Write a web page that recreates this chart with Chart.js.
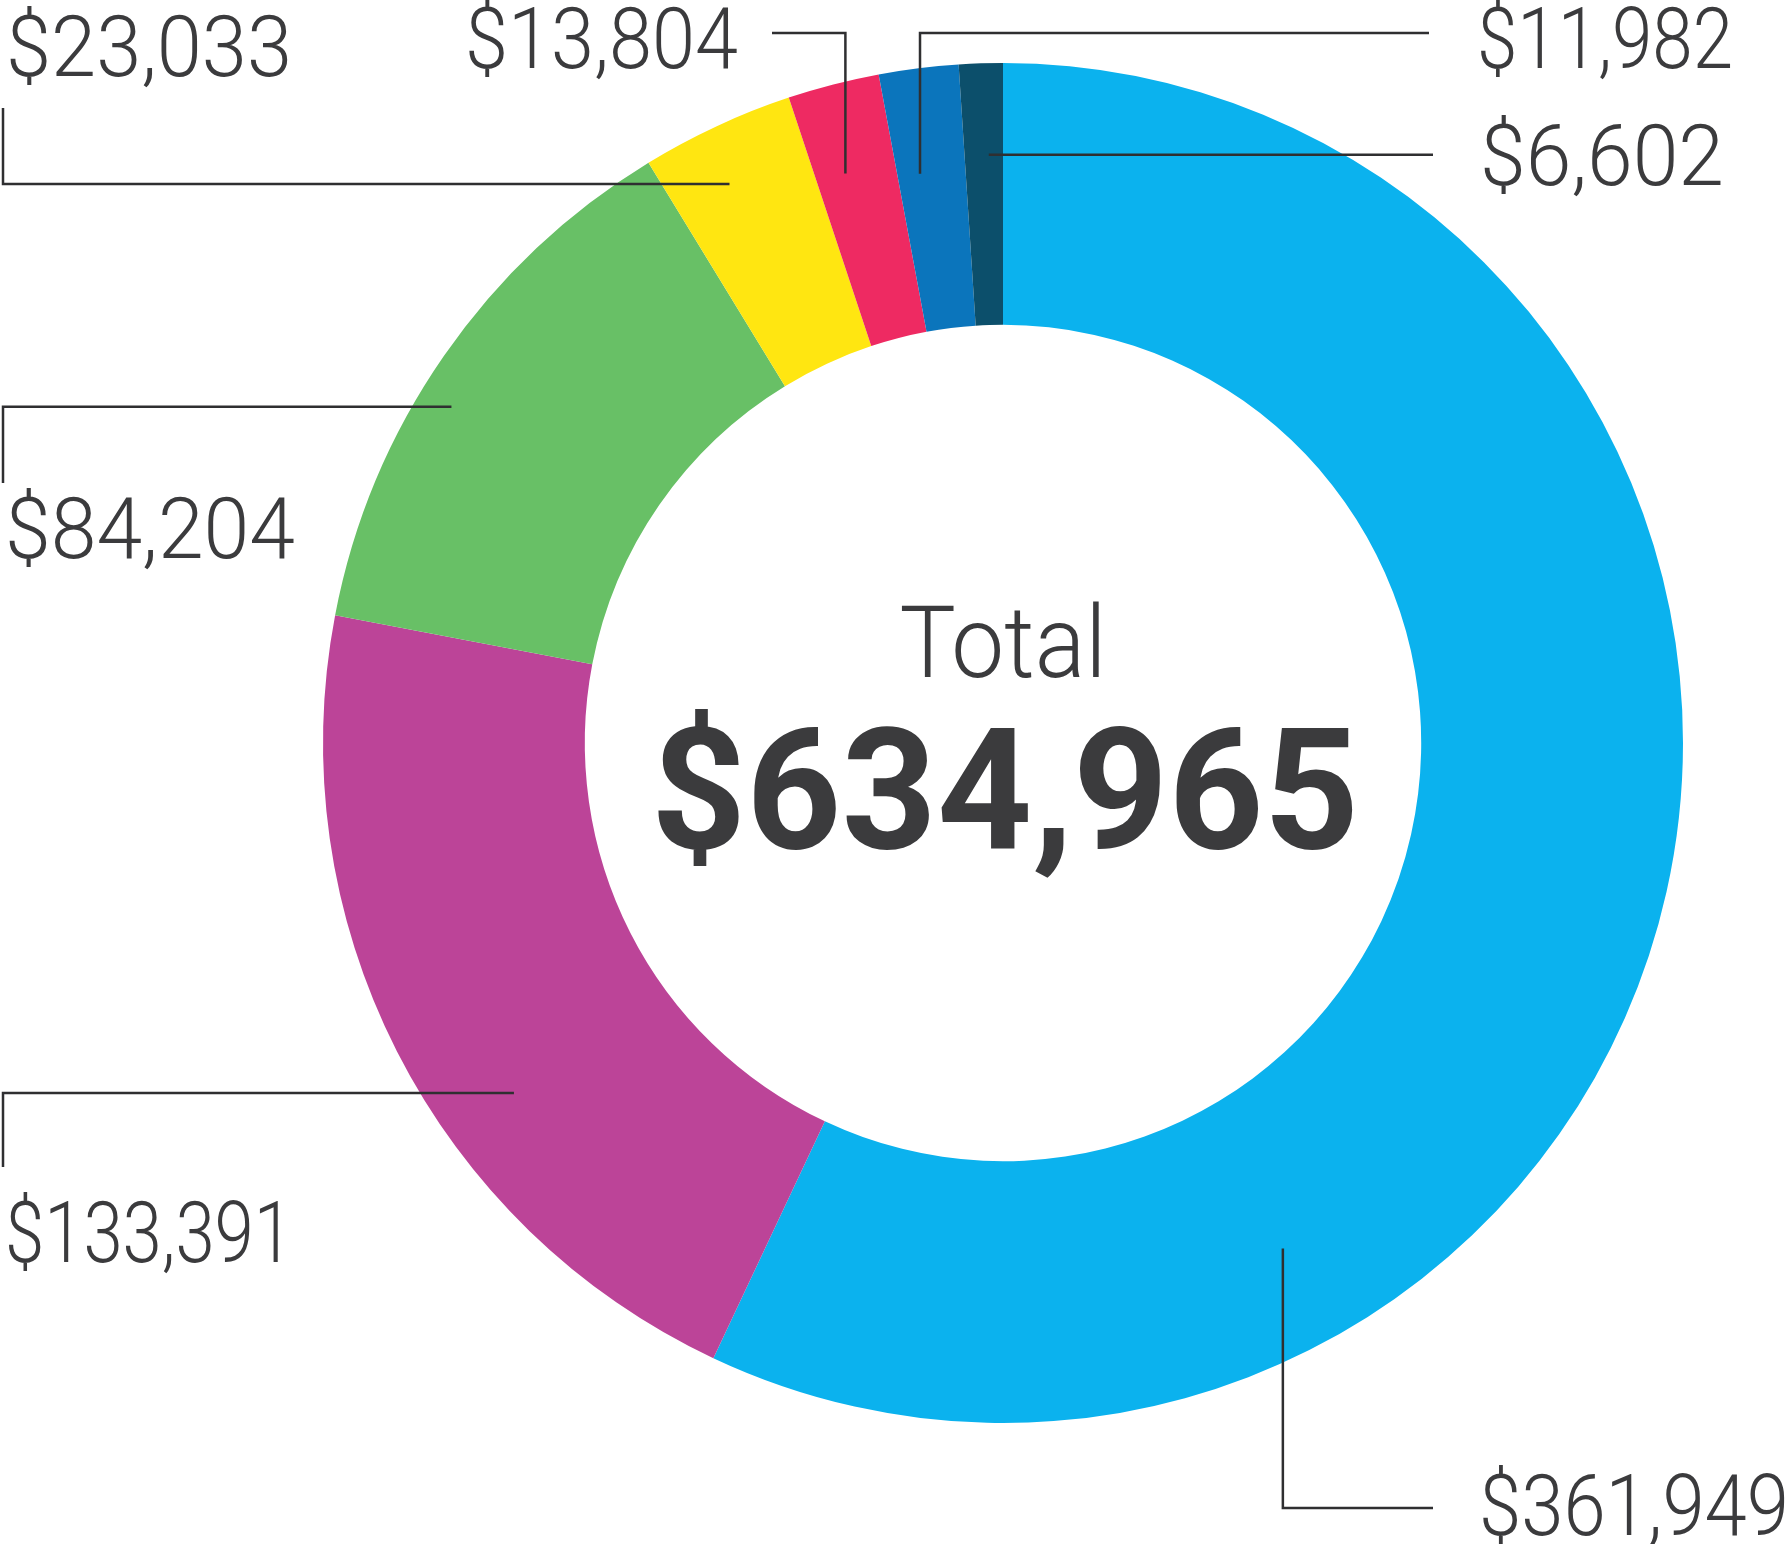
<!DOCTYPE html>
<html>
<head>
<meta charset="utf-8">
<title>Total</title>
<script src="https://cdn.jsdelivr.net/npm/chart.js@4.4.1/dist/chart.umd.min.js"></script>
<style>
  html, body { margin: 0; padding: 0; background: #fff; }
  #wrap { width: 1792px; height: 1544px; position: relative; }
</style>
</head>
<body>
<div id="wrap"><canvas id="donut" width="1792" height="1544"></canvas></div>
<script>
// valores por segmento (sentido horário a partir do topo)
const categories = ['A', 'B', 'C', 'D', 'E', 'F', 'G'];
const values = [361949, 133391, 84204, 23033, 13804, 11982, 6602];
const colors = ['#0bb2ee', '#bc4498', '#68c066', '#ffe611', '#ee2a62', '#0b75bc', '#0c4f6b'];
const totalLabel = 'Total';

const textColor = '#3b3b3d';
const lineColor = '#2f2f31';

// onde cada rótulo e linha de chamada ficam (layout)
// t = posição ao longo do arco, r = posição dentro do anel, tw = largura do texto
const callouts = [
    { t: 0.736, r: 0.61, path: 'v', y: 1508, x2: 1433, tx: 1479, ty: 1535, tw: 310 },
    { t: 0.386, r: 0.70, path: 'h', x: 3, y2: 1167, tx: 5, ty: 1262, tw: 288 },
    { t: 0.43,  r: 0.87, path: 'h', x: 3, y2: 483, tx: 5, ty: 558, tw: 290 },
    { t: 0.41,  r: 0.78, path: 'h', x: 3, y2: 108, tx: 6, ty: 76, tw: 286 },
    { t: 0.37,  r: 0.66, path: 'v', y: 33, x2: 772, tx: 465, ty: 68, tw: 273 },
    { t: 0.33,  r: 0.60, path: 'v', y: 33, x2: 1429, tx: 1477, ty: 68, tw: 256 },
    { t: 0.63,  r: 0.65, path: 'h', x: 1433, tx: 1480, ty: 185, tw: 244 }
];

function money(v) {
    return '$' + v.toLocaleString('en-US');
}

// desenha o texto comprimido na horizontal até a largura pedida
function drawText(ctx, text, x, y, font, width, align) {
    ctx.save();
    ctx.font = font;
    ctx.fillStyle = textColor;
    ctx.textBaseline = 'alphabetic';
    ctx.textAlign = 'left';
    const scaleX = width / ctx.measureText(text).width;
    const left = align === 'center' ? x - width / 2 : x;
    ctx.translate(left, y);
    ctx.scale(scaleX, 1);
    ctx.fillText(text, 0, 0);
    ctx.restore();
}

const calloutPlugin = {
    id: 'callouts',
    afterDatasetsDraw(chart) {
        const ctx = chart.ctx;
        const arcs = chart.getDatasetMeta(0).data;

        ctx.save();
        ctx.strokeStyle = lineColor;
        ctx.lineWidth = 2.5;
        arcs.forEach((arc, i) => {
            const c = callouts[i];
            const p = arc.getProps(['x', 'y', 'startAngle', 'endAngle', 'innerRadius', 'outerRadius'], true);
            const ang = p.startAngle + (p.endAngle - p.startAngle) * c.t;
            const rad = p.innerRadius + (p.outerRadius - p.innerRadius) * c.r;
            const ex = p.x + Math.cos(ang) * rad;
            const ey = p.y + Math.sin(ang) * rad;

            ctx.beginPath();
            ctx.moveTo(ex, ey);
            if (c.path === 'h') {
                ctx.lineTo(c.x, ey);
                if (c.y2 !== undefined) ctx.lineTo(c.x, c.y2);
            } else {
                ctx.lineTo(ex, c.y);
                ctx.lineTo(c.x2, c.y);
            }
            ctx.stroke();

            drawText(ctx, money(values[i]), c.tx, c.ty, '300 86px Roboto', c.tw, 'left');
        });
        ctx.restore();

        // texto central
        const cx = arcs[0].x;
        const total = values.reduce((acc, v) => acc + v, 0);
        drawText(ctx, totalLabel, cx, 677, '300 101px Roboto', 207, 'center');
        drawText(ctx, money(total), cx + 2, 848, '700 169px Roboto', 708, 'center');
    }
};

const donut = new Chart(document.getElementById('donut').getContext('2d'), {
    type: 'doughnut',
    data: {
        labels: categories,
        datasets: [{
            data: values,
            backgroundColor: colors,
            borderWidth: 0
        }]
    },
    options: {
        responsive: false,
        animation: false,
        cutout: '61.5%',
        layout: {
            padding: { left: 323, right: 109, top: 63, bottom: 121 }
        },
        plugins: {
            legend: { display: false },
            tooltip: { enabled: false }
        }
    },
    plugins: [calloutPlugin]
});
</script>
</body>
</html>
